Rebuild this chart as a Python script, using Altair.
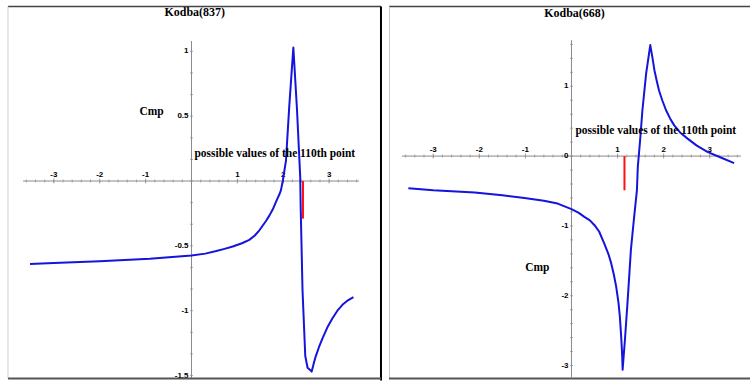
import altair as alt
import pandas as pd
import numpy as np

# ---------------- data: Kodba(837) ----------------
x837 = [-3.52, -3.0, -2.0, -0.91, 0.0, 0.3, 0.54, 0.7, 0.9, 1.1, 1.26, 1.38, 1.48, 1.55,
        1.62, 1.70, 1.77, 1.83, 1.88, 1.92, 1.95, 1.99, 2.06, 2.13, 2.22, 2.30, 2.37,
        2.38, 2.42, 2.48, 2.53, 2.58, 2.62, 2.67, 2.71, 2.78, 2.86, 2.96, 3.07, 3.18,
        3.29, 3.41, 3.53]
y837 = [-0.64, -0.632, -0.618, -0.60, -0.575, -0.56, -0.54, -0.525, -0.505, -0.48,
        -0.454, -0.42, -0.38, -0.345, -0.31, -0.265, -0.22, -0.17, -0.13, -0.1, -0.07,
        0.0, 0.16, 0.57, 1.03, 0.55, 0.03, -0.2, -0.84, -1.35, -1.44, -1.455, -1.47,
        -1.40, -1.35, -1.28, -1.21, -1.13, -1.06, -1.0, -0.955, -0.92, -0.895]
red837_x = [2.43]
red837_y = [0.0, -0.29]

# ---------------- data: Kodba(668) ----------------
x668 = [-3.54, -3.0, -2.1, -1.5, -1.02, -0.6, -0.3, 0.0, 0.15, 0.28, 0.4, 0.5, 0.6, 0.71,
        0.8, 0.86, 0.92, 0.97, 1.02, 1.05, 1.08, 1.1, 1.11, 1.16, 1.22, 1.29, 1.36, 1.42,
        1.44, 1.49, 1.54, 1.62, 1.71, 1.76, 1.8, 1.85, 1.9, 1.97, 2.05, 2.14, 2.23, 2.37,
        2.52, 2.72, 2.95, 3.24, 3.53]
y668 = [-0.46, -0.49, -0.52, -0.56, -0.6, -0.64, -0.68, -0.76, -0.81, -0.87, -0.92,
        -0.99, -1.08, -1.25, -1.4, -1.53, -1.7, -1.87, -2.1, -2.3, -2.6, -2.85, -3.06,
        -2.63, -2.06, -1.34, -0.87, -0.49, -0.15, 0.23, 0.66, 1.18, 1.59, 1.4, 1.23,
        1.08, 0.94, 0.8, 0.66, 0.54, 0.44, 0.33, 0.25, 0.15, 0.06, -0.02, -0.1]
red668_x = [1.15]
red668_y = [0.0, -0.49]

# ---------------- tick labels & texts ----------------
xtick_labels = [-3, -2, -1, 1, 2, 3]
ytick837 = [1, 0.5, -0.5, -1, -1.5]
ytick837_text = ["1", "0.5", "-0.5", "-1", "-1.5"]
ytick668 = [1, 0, -1, -2, -3]
ytick668_text = ["1", "0", "-1", "-2", "-3"]
titles = ["Kodba(837)", "Kodba(668)"]
note = "possible values of the 110th point"
ylab = "Cmp"

BLUE = "#1414dc"
RED = "#ff1010"
AXIS = "#8a8a8a"
SERIF = "Liberation Serif"
SANS = "Liberation Sans"


def panel(xs, ys, rx, ry, xdom, ydom, W, H, xrange_, yrange_, yminor_step,
          yt, yt_text, title, title_xy, note_xy, cmp_xy, frame):
    sx = alt.Scale(domain=xdom, nice=False, zero=False)
    sy = alt.Scale(domain=ydom, nice=False, zero=False)
    X = lambda f: alt.X(f, type="quantitative", scale=sx, axis=None)
    Y = lambda f: alt.Y(f, type="quantitative", scale=sy, axis=None)

    layers = []
    one = pd.DataFrame({"a": [0]})

    # axis lines
    layers.append(alt.Chart(pd.DataFrame({"x0": [xrange_[0]], "x1": [xrange_[1]], "y0": [0]}))
                  .mark_rule(color=AXIS, strokeWidth=1)
                  .encode(x=X("x0"), x2="x1", y=Y("y0")))
    layers.append(alt.Chart(pd.DataFrame({"y0": [yrange_[0]], "y1": [yrange_[1]], "x0": [0]}))
                  .mark_rule(color=AXIS, strokeWidth=1)
                  .encode(y=Y("y0"), y2="y1", x=X("x0")))
    # x ticks
    xm = np.round(np.arange(-3.6, 3.61, 0.2), 3)
    xm = xm[(xm >= xrange_[0]) & (xm <= xrange_[1])]
    layers.append(alt.Chart(pd.DataFrame({"x": xm, "y": 0.0}))
                  .mark_tick(orient="vertical", size=3, thickness=1, color=AXIS)
                  .encode(x=X("x"), y=Y("y")))
    layers.append(alt.Chart(pd.DataFrame({"x": xtick_labels, "y": 0.0}))
                  .mark_tick(orient="vertical", size=5, thickness=1, color=AXIS)
                  .encode(x=X("x"), y=Y("y")))
    layers.append(alt.Chart(pd.DataFrame({"x": xtick_labels, "y": 0.0,
                                          "t": [str(v) for v in xtick_labels]}))
                  .mark_text(font=SANS, fontSize=8, fontWeight="bold", baseline="bottom",
                             dy=-2, color="#000")
                  .encode(x=X("x"), y=Y("y"), text="t:N"))
    # y ticks
    ym = np.arange(np.ceil(yrange_[0] / yminor_step - 1e-6),
                   np.floor(yrange_[1] / yminor_step + 1e-6) + 1) * yminor_step
    layers.append(alt.Chart(pd.DataFrame({"y": ym, "x": 0.0}))
                  .mark_tick(orient="horizontal", size=3, thickness=1, color=AXIS)
                  .encode(x=X("x"), y=Y("y")))
    yl = pd.DataFrame({"y": yt, "x": 0.0, "t": yt_text})
    layers.append(alt.Chart(yl)
                  .mark_text(font=SANS, fontSize=8, fontWeight="bold", align="right",
                             baseline="middle", dx=-3, color="#000")
                  .encode(x=X("x"), y=Y("y"), text="t:N"))
    # curve
    layers.append(alt.Chart(pd.DataFrame({"x": xs, "y": ys, "o": range(len(xs))}))
                  .mark_line(color=BLUE, strokeWidth=2, strokeJoin="round")
                  .encode(x=X("x"), y=Y("y"), order="o:Q"))
    # red segment
    layers.append(alt.Chart(pd.DataFrame({"x": rx, "y0": [ry[0]], "y1": [ry[1]]}))
                  .mark_rule(color=RED, strokeWidth=2)
                  .encode(x=X("x"), y=Y("y0"), y2="y1"))
    # texts
    layers.append(alt.Chart(pd.DataFrame({"x": [title_xy[0]], "y": [title_xy[1]], "t": [title]}))
                  .mark_text(font=SERIF, fontSize=12, fontWeight="bold", align="center",
                             baseline="middle", color="#000")
                  .encode(x=X("x"), y=Y("y"), text="t:N"))
    layers.append(alt.Chart(pd.DataFrame({"x": [note_xy[0]], "y": [note_xy[1]], "t": [note]}))
                  .mark_text(font=SERIF, fontSize=11.5, fontWeight="bold", align="left",
                             baseline="middle", color="#000")
                  .encode(x=X("x"), y=Y("y"), text="t:N"))
    layers.append(alt.Chart(pd.DataFrame({"x": [cmp_xy[0]], "y": [cmp_xy[1]], "t": [ylab]}))
                  .mark_text(font=SERIF, fontSize=11.5, fontWeight="bold", align="center",
                             baseline="middle", color="#000")
                  .encode(x=X("x"), y=Y("y"), text="t:N"))
    # frame (decoration)
    for (x1, x2, y1, y2, col, sw) in frame:
        layers.append(alt.Chart(one).mark_rule(color=col, strokeWidth=sw)
                      .encode(x=alt.value(x1), x2=alt.value(x2),
                              y=alt.value(y1), y2=alt.value(y2)))

    return alt.layer(*layers).properties(width=W, height=H)


W1, W2, H = 383, 362, 381
left = panel(
    x837, y837, red837_x, red837_y,
    xdom=[-192 / 46, (W1 - 192) / 46], ydom=[(181 - H) / 130, 181 / 130],
    W=W1, H=H, xrange_=[-3.67, 3.65], yrange_=[-1.52, 1.08], yminor_step=1 / 6,
    yt=ytick837, yt_text=ytick837_text, title=titles[0],
    title_xy=[0.07, 1.3], note_xy=[0.065, 0.21], cmp_xy=[-0.87, 0.53],
    frame=[(8, 382, 6, 6, "#444444", 1.5), (8, 8, 6, 379, "#d0d0d0", 1),
           (382, 382, 6, 381, "#000000", 2), (8, 382, 379, 379, "#555555", 2)],
)
right = panel(
    x668, y668, red668_x, red668_y,
    xdom=[-183 / 46.2, (W2 - 183) / 46.2], ydom=[(156 - H) / 70, 156 / 70],
    W=W2, H=H, xrange_=[-3.68, 3.68], yrange_=[-3.17, 1.66], yminor_step=0.2,
    yt=ytick668, yt_text=ytick668_text, title=titles[1],
    title_xy=[0.065, 2.05], note_xy=[0.087, 0.357], cmp_xy=[-0.74, -1.6],
    frame=[(0, W2, 6, 6, "#444444", 1.5), (0.5, 0.5, 6, 379, "#c8c8c8", 1),
           (0, W2, 379, 379, "#555555", 2)],
)

chart = (alt.hconcat(left, right, spacing=6)
         .properties(padding=0, background="white")
         .configure_view(strokeWidth=0))

chart.save("out.html", embed_options={"renderer": "svg", "actions": False})
